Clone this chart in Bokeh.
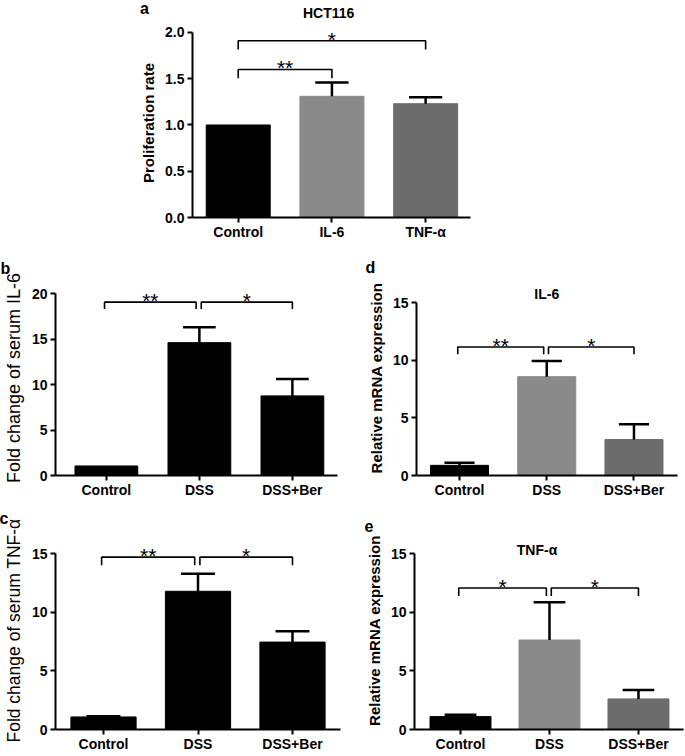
from bokeh.plotting import figure
from bokeh.layouts import column, row
from bokeh.models import (FixedTicker, Label, LabelSet, ColumnDataSource, Range1d,
                          PrintfTickFormatter, Title, Div)
from bokeh.core.properties import value
from bokeh.embed import file_html
from bokeh.resources import INLINE

FONT = "Liberation Sans"

# ---------------- data ----------------
a_categories = ["Control", "IL-6", "TNF-α"]
a_values = [1.00, 1.31, 1.23]
a_err = [0.00, 0.15, 0.07]
a_sig_pairs = [(0, 1), (0, 2)]
a_sig_y = [1.60, 1.91]
a_sig_text = ["**", "*"]
a_yticks = [0.0, 0.5, 1.0, 1.5, 2.0]

b_categories = ["Control", "DSS", "DSS+Ber"]
b_values = [1.05, 14.6, 8.75]
b_err = [0.00, 1.7, 1.85]
b_sig_pairs = [(0, 1), (1, 2)]
b_sig_y = [19.05, 19.05]
b_sig_text = ["**", "*"]
b_yticks = [0, 5, 10, 15, 20]

c_categories = ["Control", "DSS", "DSS+Ber"]
c_values = [1.07, 11.78, 7.45]
c_err = [0.05, 1.5, 0.92]
c_sig_pairs = [(0, 1), (1, 2)]
c_sig_y = [14.69, 14.69]
c_sig_text = ["**", "*"]
c_yticks = [0, 5, 10, 15]

d_categories = ["Control", "DSS", "DSS+Ber"]
d_values = [0.88, 8.57, 3.12]
d_err = [0.22, 1.37, 1.33]
d_sig_pairs = [(0, 1), (1, 2)]
d_sig_y = [11.14, 11.14]
d_sig_text = ["**", "*"]
d_yticks = [0, 5, 10, 15]

e_categories = ["Control", "DSS", "DSS+Ber"]
e_values = [1.10, 7.63, 2.61]
e_err = [0.15, 3.22, 0.75]
e_sig_pairs = [(0, 1), (1, 2)]
e_sig_y = [12.06, 12.06]
e_sig_text = ["*", "*"]
e_yticks = [0, 5, 10, 15]

gray_colors = ["#000000", "#8a8a8a", "#6c6c6c"]
black_colors = ["#000000", "#000000", "#000000"]


def make_panel(cats, vals, errs, colors, sig_pairs, sig_y, sig_text, yticks,
               ylabel, ylabel_bold, ylabel_size, width, height, borders,
               xr, yr, bar_w, drop, fmt=None):
    left, right, top, bottom = borders
    p = figure(width=width, height=height, x_range=Range1d(*xr), y_range=Range1d(*yr),
               output_backend="svg", toolbar_location=None,
               min_border_left=left, min_border_right=right,
               min_border_top=top, min_border_bottom=bottom)
    p.xgrid.visible = False
    p.ygrid.visible = False
    p.outline_line_color = None
    p.background_fill_color = "white"
    p.border_fill_color = "white"

    idx = list(range(len(cats)))
    p.vbar(x=idx, top=vals, bottom=0, width=bar_w, fill_color=colors, line_color=colors)

    ex = [i for i, e in zip(idx, errs) if e > 0]
    ev = [v for v, e in zip(vals, errs) if e > 0]
    et = [v + e for v, e in zip(vals, errs) if e > 0]
    cw = bar_w * 0.26
    p.segment(x0=ex, y0=ev, x1=ex, y1=et, line_width=2.5, line_color="black")
    p.segment(x0=[x - cw for x in ex], y0=et, x1=[x + cw for x in ex], y1=et,
              line_width=2.5, line_color="black")

    xs, ys, mx = [], [], []
    lefts = [pp[0] for pp in sig_pairs]
    rights = [pp[1] for pp in sig_pairs]
    for (i, j), yb in zip(sig_pairs, sig_y):
        x1, x2 = float(i), float(j)
        if j in lefts:
            x2 -= 0.035
        if i in rights:
            x1 += 0.02
        if i not in rights and j in lefts:
            x1 -= 0.02
        xs.append([x1, x1, x2, x2])
        ys.append([yb - drop, yb, yb, yb - drop])
        mx.append((x1 + x2) / 2)
    p.multi_line(xs, ys, line_width=1.6, line_color="black")
    src = ColumnDataSource(dict(x=mx, y=list(sig_y), t=list(sig_text)))
    p.add_layout(LabelSet(x="x", y="y", text="t", source=src, text_align="center",
                          text_baseline="alphabetic", y_offset=-6,
                          text_font=value(FONT), text_font_size=value("21px"),
                          text_color=value("black")))

    xa = p.xaxis[0]
    ya = p.yaxis[0]
    xa.ticker = FixedTicker(ticks=idx)
    xa.major_label_overrides = {i: c for i, c in zip(idx, cats)}
    ya.ticker = FixedTicker(ticks=yticks)
    ya.bounds = (yticks[0], yticks[-1])
    if fmt:
        ya.formatter = PrintfTickFormatter(format=fmt)
    for ax in (xa, ya):
        ax.axis_line_width = 2
        ax.axis_line_color = "black"
        ax.major_tick_line_width = 2
        ax.major_tick_line_color = "black"
        ax.major_tick_out = 5
        ax.major_tick_in = 0
        ax.minor_tick_line_color = None
        ax.major_label_text_font = FONT
        ax.major_label_text_font_size = "14px"
        ax.major_label_text_font_style = "bold"
        ax.major_label_text_color = "black"
    xa.major_label_standoff = 1
    ya.major_label_standoff = 3
    ya.axis_label = ylabel
    ya.axis_label_text_font = FONT
    ya.axis_label_text_font_size = ylabel_size
    ya.axis_label_text_font_style = "bold" if ylabel_bold else "normal"
    ya.axis_label_text_color = "black"
    ya.axis_label_standoff = 5
    return p


def add_text(p, text, x, y, size):
    p.add_layout(Label(x=x, y=y, text=text, text_font=FONT, text_font_size=size,
                       text_font_style="bold", text_color="black", text_align="center",
                       text_baseline="alphabetic"))


def add_letter(p, text, offset, standoff):
    p.add_layout(Title(text=text, align="left", offset=offset, standoff=standoff,
                       vertical_align="bottom", text_font=FONT, text_font_size="16px",
                       text_font_style="bold", text_color="black"), "above")


# Panel a heading strip (panel letter and title)
head_a = Div(
    text=('<div style="position:relative;width:684px;height:20px;'
          'font-family:\'Liberation Sans\';font-weight:bold;color:black;line-height:1;">'
          '<span style="position:absolute;left:140px;top:1px;font-size:16px;">a</span>'
          '<span style="position:absolute;left:303px;top:6px;font-size:14px;">HCT116</span>'
          '</div>'),
    width=684, height=20, margin=(0, 0, 0, 0))

# Panel a
pa = make_panel(a_categories, a_values, a_err, gray_colors, a_sig_pairs, a_sig_y, a_sig_text,
                a_yticks, "Proliferation rate", True, "15px", 684, 230, (192, 214, 8, 33),
                (-0.488, 2.479), (0, 2.043), 0.683, 0.095, fmt="%.1f")

# Panel b
pb = make_panel(b_categories, b_values, b_err, black_colors, b_sig_pairs, b_sig_y, b_sig_text,
                b_yticks, "Fold change of serum IL-6", False, "18px", 340, 250, (52, 3, 30, 25),
                (-0.547, 2.485), (0, 21.43), 0.675, 0.75)
add_letter(pb, "b", -55, 8)

# Panel d
pd_ = make_panel(d_categories, d_values, d_err, gray_colors, d_sig_pairs, d_sig_y, d_sig_text,
                 d_yticks, "Relative mRNA expression", True, "15px", 344, 250, (76, 7, 30, 25),
                 (-0.493, 2.499), (0, 16.91), 0.665, 0.62)
add_text(pd_, "IL-6", 1.0, 15.78, "14px")
add_letter(pd_, "d", -51, 9)

# Panel c
pc = make_panel(c_categories, c_values, c_err, black_colors, c_sig_pairs, c_sig_y, c_sig_text,
                c_yticks, "Fold change of serum TNF-α", False, "17.5px", 342, 254, (55, 2, 31, 25),
                (-0.508, 2.508), (0, 16.875), 0.69, 0.7)
add_letter(pc, "c", -56, 10)

# Panel e
pe = make_panel(e_categories, e_values, e_err, gray_colors, e_sig_pairs, e_sig_y, e_sig_text,
                e_yticks, "Relative mRNA expression", True, "15px", 342, 254, (72, 1, 31, 25),
                (-0.517, 2.506), (0, 16.875), 0.685, 0.68)
add_text(pe, "TNF-α", 0.86, 15.26, "14px")
add_letter(pe, "e", -50, 0)

layout = column(head_a, pa, row(pb, pd_), row(pc, pe))

open("out.html", "w").write(file_html(layout, INLINE))
